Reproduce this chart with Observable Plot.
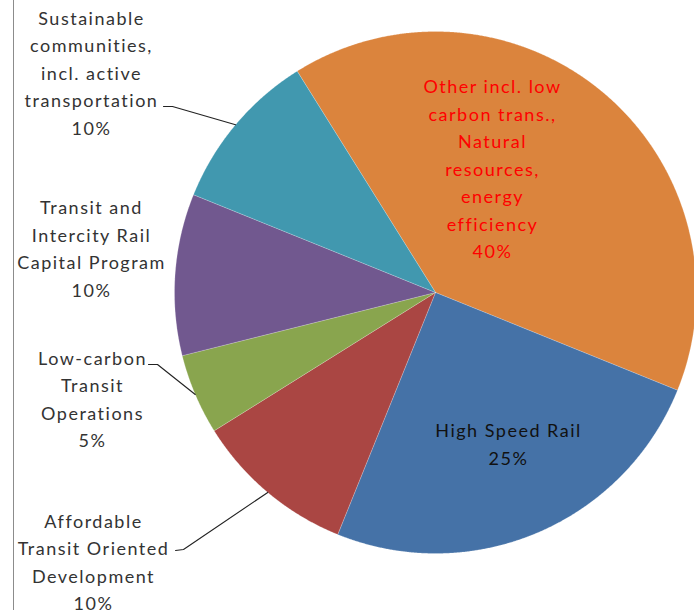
<!DOCTYPE html>
<html><head><meta charset="utf-8">
<script src="https://cdn.jsdelivr.net/npm/d3@7"></script>
<script src="https://cdn.jsdelivr.net/npm/@observablehq/plot@0.6"></script>
<style>body{margin:0;background:#fff}</style>
</head><body><div id="chart"></div>
<script>
// ---- data ----
const categories = [
  "Other incl. low carbon trans., Natural resources, energy efficiency",
  "High Speed Rail",
  "Affordable Transit Oriented Development",
  "Low-carbon Transit Operations",
  "Transit and Intercity Rail Capital Program",
  "Sustainable communities, incl. active transportation"
];
const shares = [40, 25, 10, 5, 10, 10];
const labelLines = [
  ["Other incl. low", "carbon trans.,", "Natural", "resources,", "energy", "efficiency"],
  ["High Speed Rail"],
  ["Affordable", "Transit Oriented", "Development"],
  ["Low-carbon", "Transit", "Operations"],
  ["Transit and", "Intercity Rail", "Capital Program"],
  ["Sustainable", "communities,", "incl. active", "transportation"]
];
const sliceColors = ["#DB843D", "#4572A7", "#AA4643", "#89A54E", "#71588F", "#4198AF"];
const labelColors = ["#FF0000", "#111111", "#333333", "#333333", "#333333", "#333333"];

// ---- layout ----
const W = 694, H = 610, CX = 435, CY = 292, R = 261;
const START = -32 * Math.PI / 180;
const px = (x) => (x - CX) / R, py = (y) => (CY - y) / R;
const labelPos = [[492, 166.5], [508, 441.5], [93, 559.5], [92, 396.5], [91, 246], [91, 70.5]];
const leaderStub = {2: [[175, 550], [183, 549]], 3: [[148, 364], [157, 364]], 5: [[163, 106], [172, 106]]};

const rows = categories.map((name, i) => ({name, share: shares[i], i}));
const arcs = d3.pie().sort(null).startAngle(START).endAngle(START + 2 * Math.PI).value(d => d.share)(rows);

const slicePts = [];
for (const a of arcs) {
  const i = a.data.i;
  slicePts.push({z: i, x: 0, y: 0, c: sliceColors[i]});
  const n = Math.max(2, Math.ceil((a.endAngle - a.startAngle) / 0.004));
  for (let k = 0; k <= n; k++) {
    const t = a.startAngle + (a.endAngle - a.startAngle) * k / n;
    slicePts.push({z: i, x: Math.sin(t), y: Math.cos(t), c: sliceColors[i]});
  }
  slicePts.push({z: i, x: 0, y: 0, c: sliceColors[i]});
}

const labels = arcs.map(a => {
  const i = a.data.i;
  return {
    text: [...labelLines[i], a.data.share + "%"].join("\n"),
    x: px(labelPos[i][0]), y: py(labelPos[i][1]), c: labelColors[i]
  };
});

const leaderPts = [];
for (const a of arcs) {
  const i = a.data.i;
  if (!leaderStub[i]) continue;
  const mid = (a.startAngle + a.endAngle) / 2;
  for (const [sx, sy] of leaderStub[i]) leaderPts.push({z: i, x: px(sx), y: py(sy)});
  leaderPts.push({z: i, x: Math.sin(mid), y: Math.cos(mid)});
}

const chart = Plot.plot({
  width: W, height: H,
  margin: 0,
  x: {domain: [px(0), px(W)], range: [0, W], axis: null},
  y: {domain: [py(H), py(0)], range: [H, 0], axis: null},
  color: {type: "identity"},
  style: {background: "#fff", letterSpacing: "1.5px"},
  marks: [
    Plot.ruleX([px(13)], {y1: py(0), y2: py(H), stroke: "#8c8c8c", strokeWidth: 1}),
    Plot.line(slicePts, {x: "x", y: "y", z: "z", fill: "c", stroke: "#fff", strokeWidth: 0.5, strokeOpacity: 0.4}),
    Plot.line(leaderPts, {x: "x", y: "y", z: "z", stroke: "#222", strokeWidth: 1.1}),
    Plot.text(labels, {x: "x", y: "y", text: "text", fill: "c", fontSize: 18, fontFamily: "Lato", lineHeight: 1.53, textAnchor: "middle", lineAnchor: "middle"})
  ]
});
document.getElementById("chart").append(chart);
</script>
</body></html>
